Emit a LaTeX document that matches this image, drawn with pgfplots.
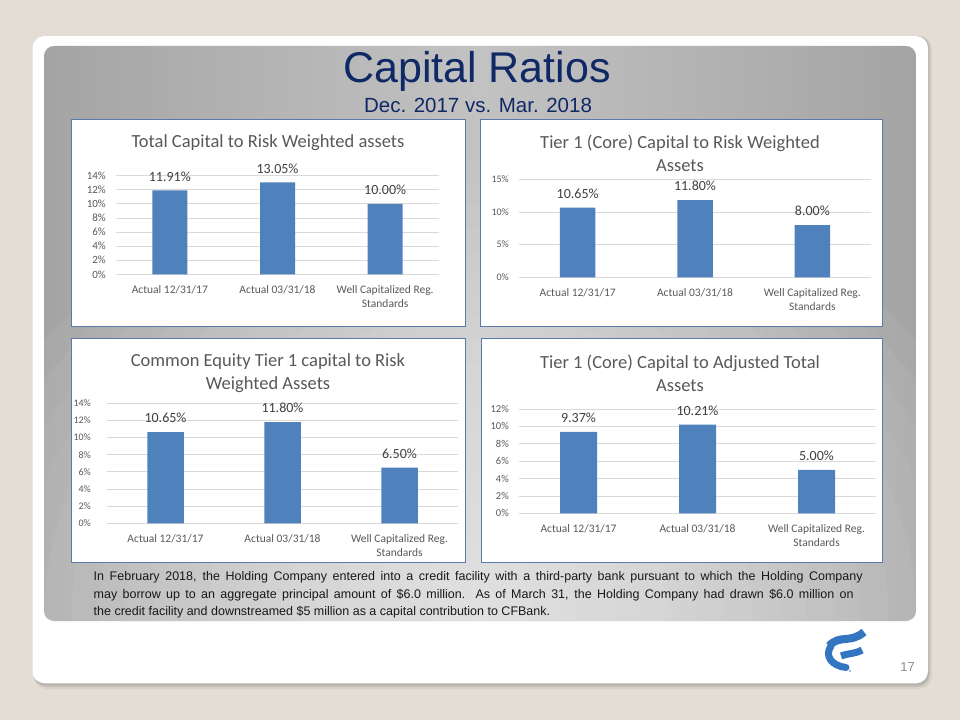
\documentclass[border=0pt]{standalone}
\usepackage{pgfplots}
\pgfplotsset{compat=1.18}
\usepackage{fontspec}
\setmainfont{Liberation Sans}
\newfontfamily\calibri{Carlito}
\definecolor{bg}{HTML}{E3DDD3}
\definecolor{barblue}{HTML}{4F81BD}
\definecolor{gridgray}{HTML}{D9D9D9}
\definecolor{ticktext}{HTML}{595959}
\definecolor{labeltext}{HTML}{404040}
\definecolor{boxborder}{HTML}{5A7AAA}
\definecolor{navy}{HTML}{0F2866}
\definecolor{logoblue}{HTML}{3375C0}
\definecolor{pedge}{HTML}{A4A4A4}
\definecolor{pmid}{HTML}{C2C2C2}
\pgfplotsset{
  bc/.style={
    scale only axis, anchor=south west, clip=false,
    ymin=0, xmin=-0.5, xmax=2.5,
    xtick={0,1,2},
    xticklabels={Actual 12/31/17,Actual 03/31/18,{Well Capitalized Reg.\\Standards}},
    axis line style={draw=none},
    major tick length=0pt,
    ymajorgrids,
    grid style={draw=gridgray, line width=0.75pt},
    xticklabel style={font=\calibri\fontsize{11.5}{13.7}\selectfont, text=ticktext, align=center, anchor=north, inner sep=0pt, yshift=-11.5pt},
    yticklabel style={font=\calibri\fontsize{10}{12}\selectfont, text=ticktext, anchor=east, inner sep=0pt, xshift=-10pt},
    ybar,
    nodes near coords={\pgfmathprintnumber[fixed,fixed zerofill,precision=2,assume math mode=true]{\pgfplotspointmeta}\%},
    every node near coord/.append style={inner sep=0pt, yshift=9pt, font=\calibri\fontsize{14}{16}\selectfont, text=labeltext},
  }
}
\begin{document}
\begin{tikzpicture}[x=1pt,y=1pt]
\useasboundingbox (0,0) rectangle (960,720);
\fill[bg] (0,0) rectangle (960,720);
% card shadow
\fill[black, opacity=0.05, rounded corners=13pt] (34,31) rectangle (932,684);
\fill[black, opacity=0.07, rounded corners=12pt] (34,33) rectangle (930,684);
\fill[black, opacity=0.08, rounded corners=12pt] (33.5,34.5) rectangle (929,684);
% card
\fill[white, rounded corners=12pt] (32.5,36.7) rectangle (928,684);
% panel
\begin{scope}
\clip[rounded corners=10pt] (44,99) rectangle (916,674);
\shade[left color=pedge, right color=pedge, middle color=pmid] (44,99) rectangle (916,674);
\foreach \k in {1,...,20} {
  \fill[white, fill opacity=0.0485] (480,110) ellipse ({544*\k/20} and {450*\k/20});
}
\end{scope}
% titles
\node[anchor=base, text=navy, font=\fontsize{43}{50}\selectfont] at (477,637) {Capital Ratios};
\node[anchor=base, text=navy, font=\fontsize{20.5}{24}\selectfont] at (478,607.5) {Dec. 2017 vs. Mar. 2018};
% chart boxes
\draw[boxborder, line width=1pt, fill=white] (71.5,393) rectangle (465,600.5);
\draw[boxborder, line width=1pt, fill=white] (480.5,393) rectangle (882,600.5);
\draw[boxborder, line width=1pt, fill=white] (71.5,157.5) rectangle (465,381);
\draw[boxborder, line width=1pt, fill=white] (481,157.5) rectangle (882,381.5);
% chart titles
\node[align=center, text=ticktext, font=\calibri\fontsize{18.5}{23}\selectfont] at (268,577) {Total Capital to Risk Weighted assets};
\node[align=center, text=ticktext, font=\calibri\fontsize{18.5}{23}\selectfont] at (680,566.7) {Tier 1 (Core) Capital to Risk Weighted\\Assets};
\node[align=center, text=ticktext, font=\calibri\fontsize{18.5}{23}\selectfont] at (268,347.1) {Common Equity Tier 1 capital to Risk\\Weighted Assets};
\node[align=center, text=ticktext, font=\calibri\fontsize{18.5}{23}\selectfont] at (680,346.7) {Tier 1 (Core) Capital to Adjusted Total\\Assets};
% chart 1
\begin{axis}[bc, at={(116pt,445.7pt)}, width=323pt, height=98.6pt, ymax=14,
  ytick={0,2,4,6,8,10,12,14}, yticklabels={0\%,2\%,4\%,6\%,8\%,10\%,12\%,14\%}, bar width=35pt,
  yticklabel style={font=\calibri\fontsize{11}{12}\selectfont}]
\addplot[fill=barblue, draw=none] coordinates {(0,11.91) (1,13.05) (2,10.00)};
\end{axis}
% chart 2
\begin{axis}[bc, at={(519pt,442.7pt)}, width=352pt, height=98pt, ymax=15,
  ytick={0,5,10,15}, yticklabels={0\%,5\%,10\%,15\%}, bar width=35.5pt]
\addplot[fill=barblue, draw=none] coordinates {(0,10.65) (1,11.80) (2,8.00)};
\end{axis}
% chart 3
\begin{axis}[bc, at={(107pt,196.7pt)}, width=351pt, height=120pt, ymax=14,
  ytick={0,2,4,6,8,10,12,14}, yticklabels={0\%,2\%,4\%,6\%,8\%,10\%,12\%,14\%}, bar width=36.5pt,
  yticklabel style={xshift=-6pt}]
\addplot[fill=barblue, draw=none] coordinates {(0,10.65) (1,11.80) (2,6.50)};
\end{axis}
% chart 4
\begin{axis}[bc, at={(519pt,206.7pt)}, width=357pt, height=104.3pt, ymax=12,
  ytick={0,2,4,6,8,10,12}, yticklabels={0\%,2\%,4\%,6\%,8\%,10\%,12\%}, bar width=37pt,
  yticklabel style={font=\calibri\fontsize{10.5}{12}\selectfont}]
\addplot[fill=barblue, draw=none] coordinates {(0,9.37) (1,10.21) (2,5.00)};
\end{axis}
% paragraph
\begin{scope}[font=\fontsize{12.5}{15}\selectfont, text=black!90]
\node[anchor=base west, inner sep=0pt] at (93.5,139.5) {\makebox[769pt][s]{In February 2018, the Holding Company entered into a credit facility with a third-party bank pursuant to which the Holding Company}};
\node[anchor=base west, inner sep=0pt] at (93.5,122) {\makebox[760pt][s]{may borrow up to an aggregate  principal amount of \$6.0 million.  As of March 31, the Holding Company had drawn \$6.0 million on}};
\node[anchor=base west, inner sep=0pt] at (93.5,105) {the credit facility and downstreamed  \$5 million as a capital contribution to CFBank.};
\end{scope}
% logo
\draw[logoblue, line width=8pt] (829,74) .. controls (840,86) and (850,76) .. (864,88);
\draw[logoblue, line width=7pt, line cap=round] (831,74) .. controls (824,64) and (832,54) .. (846,52.5);
\draw[logoblue, line width=7pt] (841,64) .. controls (849,67) and (855,66) .. (862,70);
\fill[logoblue] (850,49) circle (0.8);
% page number
\node[text=black!45, font=\fontsize{13}{15}\selectfont] at (907.5,53.3) {17};
\end{tikzpicture}
\end{document}
